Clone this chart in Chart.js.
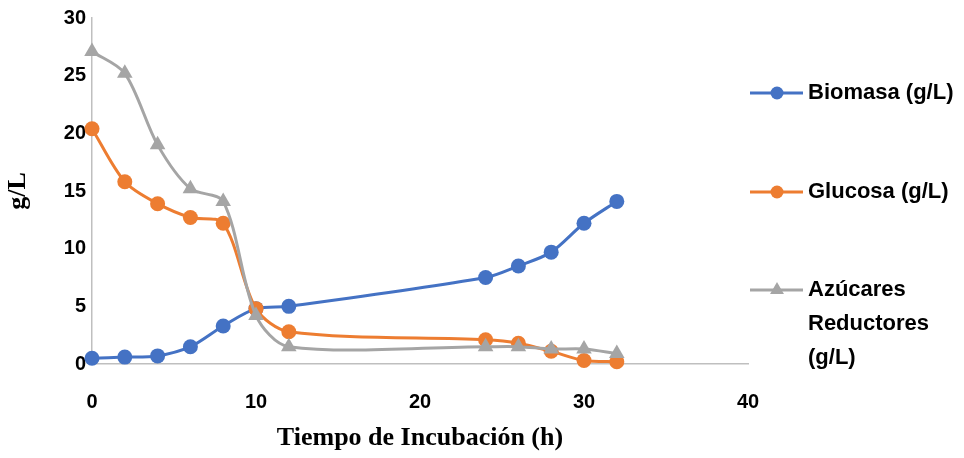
<!DOCTYPE html>
<html lang="es">
<head>
  <meta charset="UTF-8" />
  <title>Biomasa, glucosa y azúcares reductores</title>
  <script src="https://cdn.jsdelivr.net/npm/chart.js@4.4.1/dist/chart.umd.min.js"></script>
  <style>
    body { margin: 0; background: #fff; }
  </style>
</head>
<body>
  <canvas id="myChart" width="964" height="458"></canvas>

  <script>
    // values
    const hours = [0, 2, 4, 6, 8, 10, 12, 24, 26, 28, 30, 32];
    const biomasa = [0.5, 0.6, 0.7, 1.5, 3.3, 4.8, 5.0, 7.5, 8.5, 9.7, 12.2, 14.1];
    const glucosa = [20.4, 15.8, 13.9, 12.7, 12.2, 4.8, 2.8, 2.1, 1.8, 1.1, 0.3, 0.2];
    const azucares = [27.1, 25.2, 19.0, 15.2, 14.1, 4.2, 1.5, 1.5, 1.5, 1.3, 1.3, 0.9];

    const seriesLabels = [['Biomasa (g/L)'], ['Glucosa (g/L)'], ['Azúcares', 'Reductores', '(g/L)']];
    const xTicks = [0, 10, 20, 30, 40];
    const yTicks = [0, 5, 10, 15, 20, 25, 30];

    const colors = ['#4472C4', '#ED7D31', '#A5A5A5'];
    const markers = ['circle', 'circle', 'triangle'];

    const toPoints = vals => hours.map((h, i) => ({ x: h, y: vals[i] }));

    function makeSet(i, vals, order) {
      return {
        label: seriesLabels[i].join(' '),
        data: toPoints(vals),
        borderColor: colors[i],
        backgroundColor: colors[i],
        pointStyle: markers[i],
        pointRadius: markers[i] === 'triangle' ? 9 : 7.5,
        pointBorderWidth: 0,
        borderWidth: 3,
        tension: 0.3,
        clip: false,
        order: order
      };
    }

    // legend on the right, drawn by hand so the long label can wrap
    const sideLegend = {
      id: 'sideLegend',
      afterDraw(chart) {
        const ctx = chart.ctx;
        const rowsY = [93, 192, 290];
        ctx.save();
        ctx.font = 'bold 22px "Liberation Sans"';
        ctx.textBaseline = 'middle';
        seriesLabels.forEach((lines, i) => {
          const y = rowsY[i];
          ctx.strokeStyle = colors[i];
          ctx.lineWidth = 3;
          ctx.beginPath();
          ctx.moveTo(750, y);
          ctx.lineTo(803, y);
          ctx.stroke();
          ctx.fillStyle = colors[i];
          Chart.helpers.drawPoint(ctx, { pointStyle: markers[i], radius: markers[i] === 'triangle' ? 8 : 6.5, borderWidth: 0 }, 777, y);
          ctx.fillStyle = '#000';
          lines.forEach((t, k) => ctx.fillText(t, 808, y + k * 34));
        });
        ctx.restore();
      }
    };

    const ctx = document.getElementById('myChart').getContext('2d');
    const myChart = new Chart(ctx, {
      type: 'line',
      data: {
        datasets: [
          makeSet(0, biomasa, 3),
          makeSet(1, glucosa, 2),
          makeSet(2, azucares, 1)
        ]
      },
      options: {
        responsive: false,
        animation: false,
        layout: { padding: { left: 0, right: 216, top: 16, bottom: 0 } },
        plugins: { legend: { display: false }, tooltip: { enabled: false } },
        scales: {
          x: {
            type: 'linear',
            min: 0, max: 40,
            afterFit: s => { s.height = 94; },
            afterBuildTicks: s => { s.ticks = xTicks.map(v => ({ value: v })); },
            grid: { display: false, drawTicks: false },
            border: { display: true, color: '#BFBFBF', width: 1.5 },
            ticks: { color: '#000', padding: 26, font: { family: '"Liberation Sans"', size: 20, weight: 'bold' } },
            title: {
              display: true,
              text: 'Tiempo de Incubación (h)',
              color: '#000',
              padding: { top: 0, bottom: 4 },
              font: { family: '"Liberation Serif"', size: 26, weight: 'bold' }
            }
          },
          y: {
            min: 0, max: 30,
            afterFit: s => { s.width = 92; },
            afterBuildTicks: s => { s.ticks = yTicks.map(v => ({ value: v })); },
            grid: { display: false, drawTicks: false },
            border: { display: true, color: '#BFBFBF', width: 1.5 },
            ticks: { color: '#000', padding: 6, font: { family: '"Liberation Sans"', size: 20, weight: 'bold' } },
            title: {
              display: true,
              text: 'g/L',
              color: '#000',
              padding: { top: 3, bottom: 0 },
              font: { family: '"Liberation Serif"', size: 26, weight: 'bold' }
            }
          }
        }
      },
      plugins: [sideLegend]
    });
  </script>
</body>
</html>
